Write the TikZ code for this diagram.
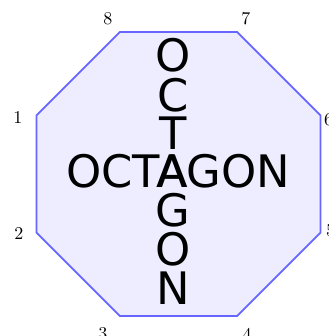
\documentclass[tikz,border=0pt]{standalone}
\usepackage{fontspec}
\setsansfont{DejaVu Sans}
\usepackage{tikz}

\begin{document}
\begin{tikzpicture}[
      octagonbox/.style={draw=blue!60, fill=blue!7, line width=1pt, line join=miter},
      cornerlabel/.style={font=\normalsize, inner sep=0pt},
      bigword/.style={font=\sffamily\Huge, inner sep=0pt}]
    \useasboundingbox (-3.486,-3.164) rectangle (2.939,3.398);
    % corners of the octagon
    \coordinate (c1) at (157.5:3);
    \coordinate (c2) at (202.5:3);
    \coordinate (c3) at (247.5:3);
    \coordinate (c4) at (292.5:3);
    \coordinate (c5) at (337.5:3);
    \coordinate (c6) at (22.5:3);
    \coordinate (c7) at (67.5:3);
    \coordinate (c8) at (112.5:3);
    \draw[octagonbox] (c1) -- (c2) -- (c3) -- (c4) -- (c5) -- (c6) -- (c7) -- (c8) -- cycle;
    % corner numbers
    \node[cornerlabel] (n1) at (-3.135,1.104)  {1};
    \node[cornerlabel] (n2) at (-3.115,-1.162) {2};
    \node[cornerlabel] (n3) at (-1.475,-3.125) {3};
    \node[cornerlabel] (n4) at (1.338,-3.125)  {4};
    \node[cornerlabel] (n5) at (2.969,-1.113)  {5};
    \node[cornerlabel] (n6) at (2.930,1.055)   {6};
    \node[cornerlabel] (n7) at (1.318,3.027)   {7};
    \node[cornerlabel] (n8) at (-1.377,3.027)  {8};
    % the word, across and down (the two A's lie on top of each other)
    \node[bigword, anchor=base] (across) at (-0.01,-0.273) {OCTAGON};
    \node[bigword] (down) at (-0.102,0.046) {\shortstack{O\\C\\T\\A\\G\\O\\N}};
  \end{tikzpicture}
\end{document}
